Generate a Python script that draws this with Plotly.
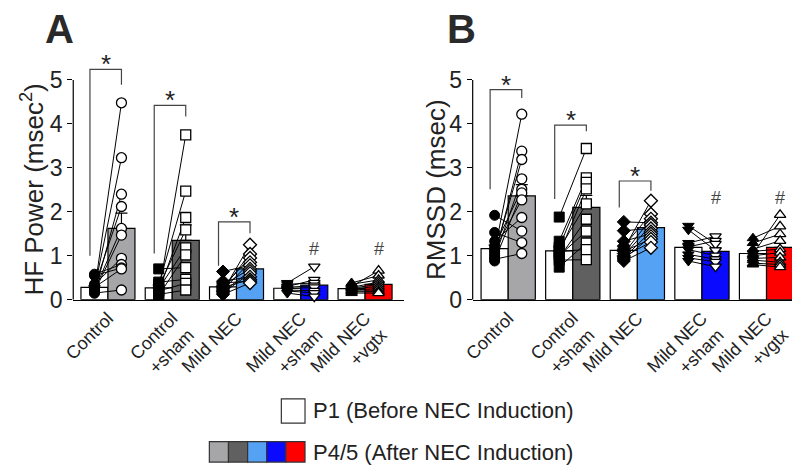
import plotly.graph_objects as go

# ---------------- data ----------------
categories = ["Control", "Control<br>+sham", "Mild NEC", "Mild NEC<br>+sham", "Mild NEC<br>+vgtx"]

# Panel A: HF power (msec^2)
hf_p1_mean = [0.28, 0.27, 0.29, 0.26, 0.25]
hf_p4_mean = [1.62, 1.35, 0.70, 0.33, 0.35]
hf_p1_sem = [0.04, 0.06, 0.03, 0.03, 0.02]
hf_p4_sem = [0.35, 0.35, 0.08, 0.07, 0.05]
hf_p1_pts = [
    [0.20, 0.25, 0.15, 0.30, 0.22, 0.18, 0.35, 0.58, 0.55, 0.28, 0.15],
    [0.15, 0.35, 0.20, 0.30, 0.25, 0.10, 0.70, 0.40, 0.20, 0.12],
    [0.20, 0.25, 0.30, 0.22, 0.64, 0.33, 0.18, 0.15, 0.42, 0.28, 0.38, 0.12],
    [0.38, 0.30, 0.35, 0.28, 0.25, 0.22, 0.20, 0.15],
    [0.30, 0.38, 0.35, 0.28, 0.26, 0.25, 0.22, 0.20, 0.18, 0.15],
]
hf_p4_pts = [
    [4.48, 3.23, 2.40, 2.12, 1.62, 1.47, 0.94, 0.80, 0.72, 0.70, 0.22],
    [3.75, 2.47, 1.87, 1.59, 1.18, 1.02, 0.73, 0.46, 0.37, 0.22],
    [1.25, 1.04, 0.95, 0.85, 0.78, 0.70, 0.65, 0.60, 0.52, 0.46, 0.42, 0.38],
    [0.75, 0.45, 0.38, 0.32, 0.28, 0.20, 0.15, 0.07],
    [0.66, 0.55, 0.45, 0.40, 0.35, 0.30, 0.25, 0.20, 0.18, 0.15],
]

# Panel B: RMSSD (msec)
rm_p1_mean = [1.16, 1.11, 1.12, 1.19, 1.05]
rm_p4_mean = [2.36, 2.10, 1.64, 1.10, 1.19]
rm_p1_sem = [0.08, 0.09, 0.07, 0.09, 0.06]
rm_p4_sem = [0.26, 0.27, 0.08, 0.08, 0.11]
rm_p1_pts = [
    [1.10, 1.00, 1.05, 0.95, 1.22, 0.88, 1.15, 1.33, 1.92, 1.53, 0.92],
    [1.88, 1.33, 1.20, 1.05, 1.15, 0.95, 1.00, 0.74, 1.10, 0.90],
    [1.15, 1.22, 1.05, 1.77, 1.00, 1.57, 0.95, 1.33, 0.92, 1.10, 0.98, 0.88],
    [1.29, 1.20, 1.68, 1.59, 1.14, 1.03, 0.95, 0.88],
    [1.04, 1.40, 1.29, 1.15, 1.10, 1.00, 0.94, 0.90, 0.83, 0.80],
]
rm_p4_pts = [
    [4.22, 3.38, 3.19, 2.75, 2.51, 2.43, 2.27, 1.87, 1.56, 1.30, 1.05],
    [3.44, 2.77, 2.67, 2.52, 2.18, 1.83, 1.56, 1.29, 1.14, 0.91],
    [2.25, 1.95, 1.84, 1.75, 1.70, 1.62, 1.55, 1.50, 1.44, 1.38, 1.31, 1.18],
    [1.44, 1.34, 1.27, 1.12, 1.00, 0.92, 0.86, 0.75],
    [1.93, 1.67, 1.49, 1.34, 1.15, 1.07, 0.96, 0.85, 0.80, 0.74],
]

y_ticks = [0, 1, 2, 3, 4, 5]
legend_p1 = "P1 (Before NEC Induction)"
legend_p4 = "P4/5 (After NEC Induction)"

# ---------------- style ----------------
p4_colors = ["#a6a6a8", "#606060", "#55a2f4", "#0a0aff", "#ff0000"]
symbols = ["circle", "square", "diamond", "triangle-down", "triangle-up"]
FONT = "Liberation Sans, Arial, sans-serif"
TXT = "#222222"
OFF = 0.21
BW = 0.42

fig = go.Figure()


def add_panel(xa, ya, p1m, p4m, p1s, p4s, p1pts, p4pts):
    n = len(categories)
    x1 = [i - OFF for i in range(n)]
    x4 = [i + OFF for i in range(n)]
    fig.add_trace(go.Bar(
        x=x1, y=p1m, width=BW, xaxis=xa, yaxis=ya,
        marker=dict(color="white", line=dict(color="black", width=1.2)),
        error_y=dict(type="data", array=p1s, arrayminus=[0] * n, symmetric=False,
                     color="black", thickness=1.2, width=6),
        showlegend=False, hoverinfo="skip"))
    fig.add_trace(go.Bar(
        x=x4, y=p4m, width=BW, xaxis=xa, yaxis=ya,
        marker=dict(color=p4_colors, line=dict(color="black", width=1.2)),
        error_y=dict(type="data", array=p4s, arrayminus=[0] * n, symmetric=False,
                     color="black", thickness=1.2, width=6),
        showlegend=False, hoverinfo="skip"))
    for i in range(n):
        lx, ly = [], []
        for a, b in zip(p1pts[i], p4pts[i]):
            lx += [x1[i], x4[i], None]
            ly += [a, b, None]
        fig.add_trace(go.Scatter(x=lx, y=ly, mode="lines", xaxis=xa, yaxis=ya,
                                 line=dict(color="black", width=1),
                                 showlegend=False, hoverinfo="skip"))
    for i in range(n):
        fig.add_trace(go.Scatter(
            x=[x1[i]] * len(p1pts[i]), y=p1pts[i], mode="markers", xaxis=xa, yaxis=ya,
            marker=dict(symbol=symbols[i], size=10, color="black",
                        line=dict(color="black", width=1)),
            showlegend=False, hoverinfo="skip", cliponaxis=False))
        fig.add_trace(go.Scatter(
            x=[x4[i]] * len(p4pts[i]), y=p4pts[i], mode="markers", xaxis=xa, yaxis=ya,
            marker=dict(symbol=symbols[i], size=10, color="white",
                        line=dict(color="black", width=1.3)),
            showlegend=False, hoverinfo="skip", cliponaxis=False))


add_panel("x", "y", hf_p1_mean, hf_p4_mean, hf_p1_sem, hf_p4_sem, hf_p1_pts, hf_p4_pts)
add_panel("x2", "y2", rm_p1_mean, rm_p4_mean, rm_p1_sem, rm_p4_sem, rm_p1_pts, rm_p4_pts)

W, H = 800, 468
ydom = [168 / H, (H - 51.4) / H]

xaxis_common = dict(
    tickvals=list(range(len(categories))), ticktext=categories, tickangle=-45,
    showline=True, linecolor="black", linewidth=1.2, ticks="", showgrid=False,
    zeroline=False, tickfont=dict(family=FONT, size=18, color=TXT), fixedrange=True,
)
yaxis_common = dict(
    range=[0, 5.5], tickvals=y_ticks, ticks="outside", ticklen=5, tickwidth=1.2,
    tickcolor="black", showline=False, showgrid=False, zeroline=False,
    tickfont=dict(family=FONT, size=23, color=TXT), domain=ydom, fixedrange=True,
)

fig.update_layout(
    width=W, height=H, margin=dict(l=0, r=0, t=0, b=0),
    paper_bgcolor="white", plot_bgcolor="white", barmode="overlay",
    xaxis=dict(domain=[55 / W, 390 / W], range=[-0.54, 4.6], anchor="y", **xaxis_common),
    yaxis=dict(anchor="x", **yaxis_common),
    xaxis2=dict(domain=[460 / W, 792 / W], range=[-0.55, 4.52], anchor="y2", **xaxis_common),
    yaxis2=dict(anchor="x2", **yaxis_common),
)

shapes = []
annotations = []

# y axis lines (0..5)
for xr, yr in [("x", "y"), ("x2", "y2")]:
    shapes.append(dict(type="line", xref=xr + " domain", yref=yr, x0=0, x1=0, y0=0, y1=5,
                       line=dict(color="black", width=1.2)))

# significance brackets: (group, left-leg bottom, top, right-leg bottom)
brackets = {
    ("x", "y"): [(0, 1.0, 5.24, 4.89), (1, 1.05, 4.42, 4.17), (2, 0.77, 1.77, 1.51)],
    ("x2", "y2"): [(0, 2.51, 4.78, 4.59), (1, 2.29, 3.97, 3.83), (2, 2.10, 2.70, 2.48)],
}
hash_level = {("x", "y"): 1.15, ("x2", "y2"): 2.32}
for (xr, yr), blist in brackets.items():
    for g, lb, top, rb in blist:
        xl, xrr = g - 0.28, g + 0.21
        shapes.append(dict(type="path", xref=xr, yref=yr,
                           path=f"M {xl},{lb} L {xl},{top} L {xrr},{top} L {xrr},{rb}",
                           line=dict(color="#444444", width=1.2)))
        annotations.append(dict(xref=xr, yref=yr, x=(xl + xrr) / 2, y=top, text="*",
                                showarrow=False, yanchor="bottom", yshift=-12,
                                font=dict(family=FONT, size=26, color=TXT)))
    for g in [3, 4]:
        annotations.append(dict(xref=xr, yref=yr, x=g + OFF, y=hash_level[(xr, yr)], text="#",
                                showarrow=False, yanchor="middle",
                                font=dict(family=FONT, size=18, color="#444444")))

# panel letters
for letter, px in [("A", 41), ("B", 449)]:
    annotations.append(dict(xref="paper", yref="paper", x=px / W, y=1 - 22 / H, text=f"<b>{letter}</b>",
                            showarrow=False, xanchor="center", yanchor="middle",
                            font=dict(family=FONT, size=40, color="#2a2a2a")))

# y titles
for title, px in [("HF Power (msec<sup>2</sup>)", 14), ("RMSSD (msec)", 423)]:
    annotations.append(dict(xref="paper", yref="paper", x=px / W, y=1 - 187 / H, text=title,
                            textangle=-90, showarrow=False, xanchor="center", yanchor="middle",
                            font=dict(family=FONT, size=26, color=TXT)))

# legend
shapes.append(dict(type="rect", xref="paper", yref="paper", x0=266 / W, x1=290 / W,
                   y0=1 - 427 / H, y1=1 - 402 / H, fillcolor="white",
                   line=dict(color="#333333", width=1.2)))
annotations.append(dict(xref="paper", yref="paper", x=296 / W, y=1 - 414 / H, text=legend_p1,
                        showarrow=False, xanchor="left", yanchor="middle",
                        font=dict(family=FONT, size=22, color=TXT)))
bw = (290 - 193) / len(p4_colors)
for i, c in enumerate(p4_colors):
    shapes.append(dict(type="rect", xref="paper", yref="paper", x0=(193 + i * bw) / W,
                       x1=(193 + (i + 1) * bw) / W, y0=1 - 467 / H, y1=1 - 446 / H,
                       fillcolor=c, line=dict(color="#333333", width=1.2)))
annotations.append(dict(xref="paper", yref="paper", x=296 / W, y=1 - 457 / H, text=legend_p4,
                        showarrow=False, xanchor="left", yanchor="middle",
                        font=dict(family=FONT, size=22, color=TXT)))

fig.update_layout(shapes=shapes, annotations=annotations)
fig.write_html("out.html")
